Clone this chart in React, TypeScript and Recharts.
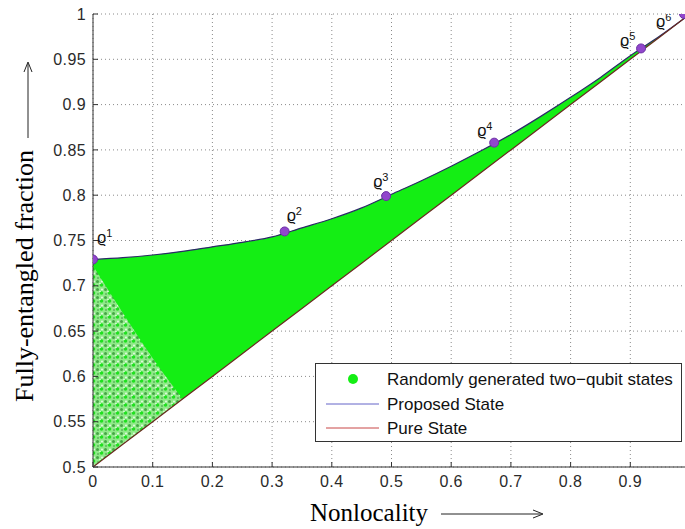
import React from "react";
import { ComposedChart, Area, Line, Scatter, XAxis, YAxis, CartesianGrid } from "recharts";

// nonlocality grid for the two boundary curves
const nonlocality = [0, 0.05, 0.1, 0.15, 0.2, 0.25, 0.3, 0.35, 0.4, 0.45, 0.5, 0.55, 0.6, 0.65, 0.7, 0.75, 0.8, 0.85, 0.9, 0.95, 1];
const pureState = [0.5, 0.525, 0.55, 0.575, 0.6, 0.625, 0.65, 0.675, 0.7, 0.725, 0.75, 0.775, 0.8, 0.825, 0.85, 0.875, 0.9, 0.925, 0.95, 0.975, 1];
const proposedState = [0.729, 0.731, 0.734, 0.738, 0.743, 0.748, 0.754, 0.764, 0.774, 0.786, 0.801, 0.816, 0.832, 0.849, 0.867, 0.887, 0.908, 0.93, 0.954, 0.976, 1];
// upper edge of the sparsely sampled corner near zero nonlocality
const sparseEdge = [0.722, 0.67, 0.62, 0.575];

// marked states rho^1 .. rho^6
const rhoNames = ["1", "2", "3", "4", "5", "6"];
const rhoX = [0, 0.321, 0.491, 0.672, 0.918, 0.99];
const rhoY = [0.729, 0.76, 0.799, 0.858, 0.962, 1];

const xTicks = [0, 0.1, 0.2, 0.3, 0.4, 0.5, 0.6, 0.7, 0.8, 0.9];
const yTicks = [0.5, 0.55, 0.6, 0.65, 0.7, 0.75, 0.8, 0.85, 0.9, 0.95, 1];

const legendLabels = ["Randomly generated two\u2212qubit states", "Proposed State", "Pure State"];

// label offsets (px) for each rho marker
const labelDx = [4, 2, -13, -17, -21, -28];
const labelDy = [-17, -10, -9, -7, -2, 13];

const rows = nonlocality.map((x, i) => ({
  x,
  pure: pureState[i],
  proposed: proposedState[i],
  band: [pureState[i], proposedState[i]],
  sparse: i < sparseEdge.length ? [pureState[i], sparseEdge[i]] : undefined,
}));

const rhoPoints = rhoX.map((x, i) => ({ x, y: rhoY[i], name: rhoNames[i], idx: i }));

const tickFont = { fontFamily: "Liberation Sans, Arial, sans-serif", fontSize: 16, fill: "#2a2a2a", letterSpacing: 0.4 };

const RhoMarker = (props: any) => {
  const { cx, cy, payload } = props;
  const i = payload.idx;
  const tx = cx + labelDx[i];
  const ty = cy + labelDy[i];
  return (
    <g>
      <circle cx={cx} cy={cy} r={4.5} fill="#9146cc" stroke="#6b2fa3" strokeWidth={1} />
      <text x={tx} y={ty} fontFamily="Liberation Sans, Arial, sans-serif" fontSize={16} fill="#111">
        ϱ<tspan dy={-6} fontSize={11}>{payload.name}</tspan>
      </text>
    </g>
  );
};

const XTitle = () => (
  <g>
    <text x={310} y={521} fontFamily="Liberation Serif, Times New Roman, serif" fontSize={25} fill="#000">
      Nonlocality
    </text>
    <line x1={441} y1={514} x2={541} y2={514} stroke="#222" strokeWidth={1} />
    <path d="M533,510 L543,514 L533,518" fill="none" stroke="#222" strokeWidth={1} />
  </g>
);

const YTitle = () => (
  <g>
    <text
      x={33}
      y={402}
      transform="rotate(-90 33 402)"
      fontFamily="Liberation Serif, Times New Roman, serif"
      fontSize={26}
      fill="#000"
    >
      Fully-entangled fraction
    </text>
    <line x1={28} y1={138} x2={28} y2={64} stroke="#222" strokeWidth={1} />
    <path d="M24,72 L28,62 L32,72" fill="none" stroke="#222" strokeWidth={1} />
  </g>
);

export default function App() {
  return (
    <div style={{ position: "absolute", left: 0, top: 0, width: 685, height: 529, overflow: "hidden", background: "#fff" }}>
      <ComposedChart width={700} height={529} data={rows} margin={{ top: 14, right: 10, left: 0, bottom: 0 }}>
        <defs>
          <pattern id="speckle" width="8" height="8" patternUnits="userSpaceOnUse">
            <rect width="8" height="8" fill="#8fea88" />
            <circle cx="1.5" cy="1.5" r="1.5" fill="#45a545" />
            <circle cx="5.5" cy="5" r="1.8" fill="#1fe01f" />
            <circle cx="2" cy="6" r="1" fill="#5fb55f" />
            <circle cx="6" cy="1.5" r="0.9" fill="#eefbec" />
            <circle cx="4" cy="3.5" r="0.7" fill="#ffffff" />
          </pattern>
        </defs>
        <CartesianGrid stroke="#8a8a8a" strokeDasharray="1 3" />
        <XAxis
          type="number"
          dataKey="x"
          domain={[0, 1]}
          ticks={xTicks}
          height={62}
          tickSize={-5}
          tickMargin={14}
          tick={tickFont}
          stroke="#333"
          tickFormatter={(v: number) => String(v)}
          allowDataOverflow
        />
        <YAxis
          type="number"
          domain={[0.5, 1]}
          ticks={yTicks}
          width={93}
          tickSize={-5}
          tickMargin={12}
          tick={tickFont}
          stroke="#333"
          tickFormatter={(v: number) => String(v)}
          allowDataOverflow
        />
        <Area
          type="monotone"
          dataKey="band"
          stroke="none"
          fill="#14ee14"
          fillOpacity={1}
          isAnimationActive={false}
          activeDot={false}
        />
        <Area
          type="monotone"
          dataKey="sparse"
          stroke="none"
          fill="url(#speckle)"
          fillOpacity={1}
          isAnimationActive={false}
          activeDot={false}
        />
        <Line type="monotone" dataKey="proposed" stroke="#2a2a66" strokeWidth={1.2} dot={false} isAnimationActive={false} />
        <Line type="linear" dataKey="pure" stroke="#6a2a20" strokeWidth={1.2} dot={false} isAnimationActive={false} />
        <Scatter data={rhoPoints} dataKey="y" shape={<RhoMarker />} isAnimationActive={false} />
        <XTitle />
        <YTitle />
      </ComposedChart>
      <div
        style={{
          position: "absolute",
          left: 315,
          top: 363,
          width: 365,
          height: 77,
          border: "1px solid #333",
          background: "#fff",
        }}
      >
        <svg width={365} height={77} style={{ position: "absolute", left: 0, top: 0 }}>
          <circle cx={37} cy={15} r={5} fill="#14ee14" />
          <line x1={10} y1={40} x2={63} y2={40} stroke="#6464c8" strokeWidth={1} />
          <line x1={10} y1={64} x2={63} y2={64} stroke="#c84646" strokeWidth={1} />
          {legendLabels.map((t, i) => (
            <text key={t} x={71} y={21 + i * 24.5} fontFamily="Liberation Sans, Arial, sans-serif" fontSize={17} fill="#111">
              {t}
            </text>
          ))}
        </svg>
      </div>
    </div>
  );
}
